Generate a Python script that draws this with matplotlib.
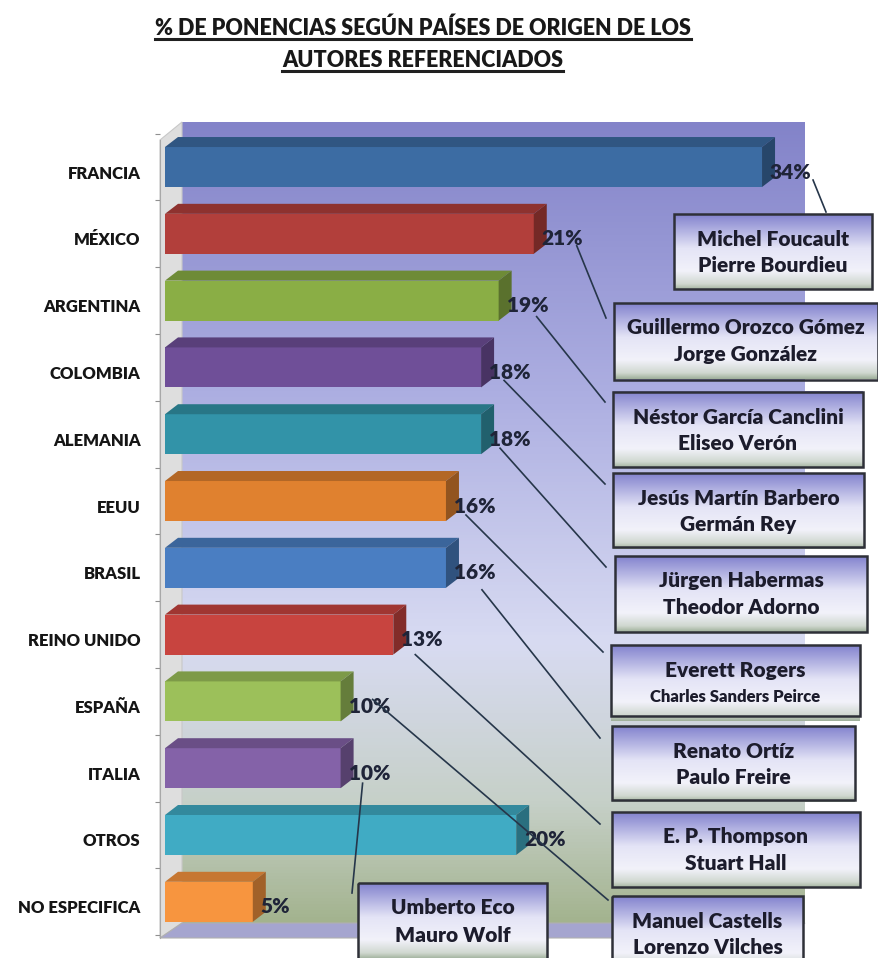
import matplotlib.pyplot as plt
import numpy as np
import matplotlib.transforms as mtrans
from matplotlib.colors import LinearSegmentedColormap, to_rgb
from matplotlib.patches import Polygon, Rectangle

plt.rcParams['font.family'] = ['Lato', 'DejaVu Sans']

# datos
paises = ['FRANCIA', 'MÉXICO', 'ARGENTINA', 'COLOMBIA', 'ALEMANIA', 'EEUU', 'BRASIL',
          'REINO UNIDO', 'ESPAÑA', 'ITALIA', 'OTROS', 'NO ESPECIFICA']
porcentajes = [34, 21, 19, 18, 18, 16, 16, 13, 10, 10, 20, 5]
colores = ['#3C6CA3', '#B23F3B', '#8AAE45', '#6F4F98', '#3293A8', '#E0812F',
           '#4A7EC2', '#C8443F', '#9CC05A', '#8462A8', '#40ABC4', '#F7953F']
autores_1 = ['Michel Foucault', 'Guillermo Orozco Gómez', 'Néstor García Canclini',
             'Jesús Martín Barbero', 'Jürgen Habermas', 'Everett Rogers', 'Renato Ortíz',
             'E. P. Thompson', 'Manuel Castells', 'Umberto Eco']
autores_2 = ['Pierre Bourdieu', 'Jorge González', 'Eliseo Verón', 'Germán Rey',
             'Theodor Adorno', 'Charles Sanders Peirce', 'Paulo Freire', 'Stuart Hall',
             'Lorenzo Vilches', 'Mauro Wolf']
titulo = ['% DE PONENCIAS SEGÚN PAÍSES DE ORIGEN DE LOS', 'AUTORES REFERENCIADOS']

# layout (pixeles de la imagen)
W, H = 879, 958
cajas = [(674, 214, 872, 289), (614, 303, 878, 380), (613, 392, 863, 467),
         (613, 473, 864, 547), (615, 556, 867, 632), (611, 645, 860, 716),
         (612, 726, 855, 800), (612, 812, 860, 887), (612, 896, 803, 975),
         (358, 883, 547, 975)]
fin_linea = [(826, 212), (606, 318), (605, 402), (605, 484), (606, 567),
             (603, 652), (600, 738), (600, 824), (608, 900), (352, 893)]
inicio_off = [(51, 13), (43, 12), (38, 16), (23, 13), (19, 14),
              (20, 14), (36, 22), (22, 20), (32, -2), (22, 15)]

PX_X = 17.56
PX_Y = 66.8
PESO = 'heavy'

fig = plt.figure(figsize=(W / 100, H / 100), dpi=100)

back = fig.add_axes([0, 0, 1, 1], zorder=0)
back.axis('off')

wall_cmap = LinearSegmentedColormap.from_list('wall', [
    (0, '#8383C9'), (0.35, '#AEB0E2'), (0.65, '#D8DBF2'), (0.85, '#C6D0C8'), (1, '#A3B38E')])
grad = np.linspace(0, 1, 256).reshape(-1, 1)
back.imshow(grad, extent=[182, 805, 923, 122], aspect='auto', cmap=wall_cmap)
back.add_patch(Polygon([(160, 140), (182, 122), (182, 923), (160, 938)],
                       facecolor='#DEDEDE', edgecolor='#C8C8C8', lw=0.8))
back.add_patch(Polygon([(160, 938), (182, 923), (805, 923), (783, 938)],
                       facecolor='#A5A5CF', edgecolor='#B0B0B0', lw=0.8))
back.set_xlim(0, W)
back.set_ylim(H, 0)

# eje principal
ax = fig.add_axes([160 / W, 1 - 938 / H, 645 / W, 816 / H], zorder=1)
ax.patch.set_visible(False)
ax.set_xlim(-5 / PX_X, 640 / PX_X)
ax.set_ylim(11.542, -0.674)

h = 40 / PX_Y
dx = 13 / PX_X
dy = 10 / PX_Y


def oscurecer(c, f):
    r, g, b = to_rgb(c)
    return (r * f, g * f, b * f)


bajar = mtrans.ScaledTranslation(0, -0.05, fig.dpi_scale_trans)
for i, v in enumerate(porcentajes):
    ax.barh(i, v, height=h, color=colores[i], zorder=3)
    top = i - h / 2
    bot = i + h / 2
    ax.add_patch(Polygon([(0, top), (v, top), (v + dx, top - dy), (dx, top - dy)],
                         facecolor=oscurecer(colores[i], 0.8), lw=0, zorder=3))
    ax.add_patch(Polygon([(v, top), (v + dx, top - dy), (v + dx, bot - dy), (v, bot)],
                         facecolor=oscurecer(colores[i], 0.65), lw=0, zorder=3))
    ax.text(v + 0.45, i, f'{v}%', ha='left', va='center', fontsize=15,
            fontweight=PESO, color='#1F2438', zorder=4,
            transform=ax.transData + bajar)

ax.set_yticks(range(len(paises)))
ax.set_yticklabels(paises, fontsize=12, fontweight=PESO, color='#151515')
ax.set_yticks(np.arange(-0.5, len(paises), 1), minor=True)
ax.tick_params(axis='y', which='major', length=0, pad=14)
ax.tick_params(axis='y', which='minor', length=3.5, color='#909090', width=0.8)
for lab in ax.get_yticklabels():
    lab.set_transform(lab.get_transform() + bajar)
ax.set_xticks([])
for s in ['top', 'right', 'bottom']:
    ax.spines[s].set_visible(False)
ax.spines['left'].set_color('#A8A8A8')
ax.spines['left'].set_bounds(-0.41, 11.542)

# cajas con autores
front = fig.add_axes([0, 0, 1, 1], zorder=2)
front.axis('off')
front.patch.set_visible(False)

box_cmap = LinearSegmentedColormap.from_list('caja', [
    (0, '#8282CE'), (0.45, '#E4E4F6'), (0.75, '#F2F2FA'), (0.92, '#D0D8D0'), (1, '#9FB09A')])

for k in range(len(autores_1)):
    x0, y0, x1, y1 = cajas[k]
    front.imshow(grad, extent=[x0, x1, y0 + 76, y0], aspect='auto', cmap=box_cmap, zorder=2)
    front.add_patch(Rectangle((x0, y0), x1 - x0, y1 - y0, fill=False,
                              edgecolor='#2E3038', lw=1.8, zorder=3))
    cx = (x0 + x1) / 2
    front.text(cx, y0 + 25, autores_1[k], ha='center', va='center', fontsize=15,
               fontweight=PESO, color='#1C1C2C', zorder=4)
    fs2 = 12 if len(autores_2[k]) > 18 else 15
    front.text(cx, y0 + 52, autores_2[k], ha='center', va='center', fontsize=fs2,
               fontweight=PESO, color='#1C1C2C', zorder=4)

    # linea desde la etiqueta del porcentaje
    px, py = ax.transData.transform((porcentajes[k], k))
    sx = px + inicio_off[k][0]
    sy = H - py + inicio_off[k][1]
    ex, ey = fin_linea[k]
    front.plot([sx, ex], [sy, ey], color='#26364A', lw=1.2, zorder=1)

# titulo
t1 = front.text(423, 28, titulo[0], ha='center', va='center', fontsize=15.5,
                fontweight=PESO, color='#181818')
t2 = front.text(423, 60, titulo[1], ha='center', va='center', fontsize=15.5,
                fontweight=PESO, color='#181818')
front.set_xlim(0, W)
front.set_ylim(H, 0)

fig.canvas.draw()
for t, yb in [(t1, 39), (t2, 71)]:
    bb = t.get_window_extent()
    front.plot([bb.x0, bb.x1], [yb, yb], color='#202020', lw=2.2)
front.set_xlim(0, W)
front.set_ylim(H, 0)

fig.savefig('out.png', dpi=100)
